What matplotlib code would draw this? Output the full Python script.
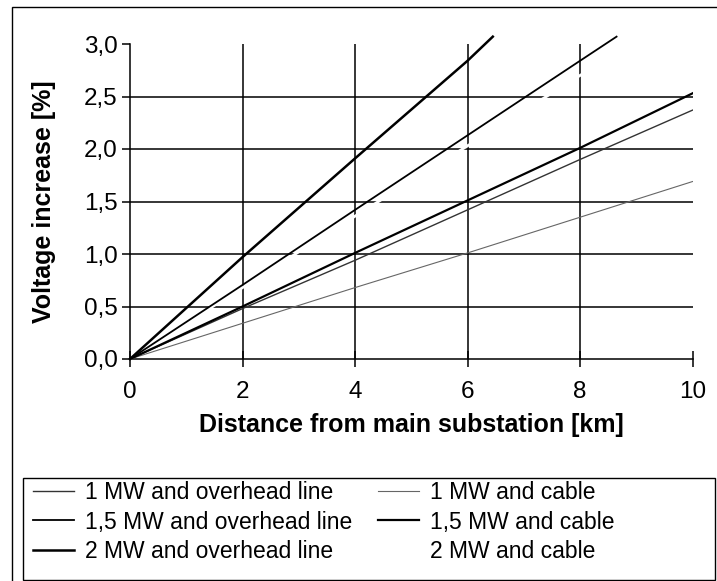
import matplotlib.pyplot as plt
from matplotlib.patches import Rectangle

plt.rcParams["font.family"] = ["Liberation Sans", "DejaVu Sans"]

# voltage rise [%] along the feeder, read at every 2 km
distance_km = [0, 2, 4, 6, 8, 10]
overhead_1mw = [0, 0.48, 0.94, 1.42, 1.90, 2.37]
cable_1mw = [0, 0.34, 0.68, 1.01, 1.35, 1.69]
cable_15mw = [0, 0.50, 1.01, 1.51, 2.01, 2.53]
cable_2mw = [0, 0.68, 1.36, 2.03, 2.70, 3.38]

# the two steep overhead-line curves stop just above 3 %
overhead_15mw_km = [0, 2, 4, 6, 8, 8.65]
overhead_15mw = [0, 0.705, 1.42, 2.13, 2.84, 3.07]
overhead_2mw_km = [0, 2, 4, 6, 6.45]
overhead_2mw = [0, 0.97, 1.91, 2.84, 3.07]

x_ticks = [0, 2, 4, 6, 8, 10]
x_tick_labels = ["0", "2", "4", "6", "8", "10"]
y_ticks = [0, 0.5, 1.0, 1.5, 2.0, 2.5, 3.0]
y_tick_labels = ["0,0", "0,5", "1,0", "1,5", "2,0", "2,5", "3,0"]

labels_overhead = ["1 MW and overhead line", "1,5 MW and overhead line",
                   "2 MW and overhead line"]
labels_cable = ["1 MW and cable", "1,5 MW and cable", "2 MW and cable"]

W, H = 717, 581
fig = plt.figure(figsize=(W / 100, H / 100), dpi=100)
ax = fig.add_axes([130 / W, 1 - 359 / H, 562.5 / W, 315 / H])

# frame around the whole figure and around the legend
fig.patches.append(Rectangle((12 / W, -0.05), 1.0, 1 - 7 / H + 0.05,
                             transform=fig.transFigure, fill=False,
                             lw=1.0, ec="black"))
fig.patches.append(Rectangle((23 / W, 1 - 580 / H), (715 - 23) / W, (580 - 478) / H,
                             transform=fig.transFigure, fill=False,
                             lw=1.0, ec="black"))

for y in y_ticks[1:-1]:
    ax.axhline(y, color="black", lw=1.1, zorder=1)
for x in x_ticks[1:-1]:
    ax.axvline(x, color="black", lw=1.1, zorder=1)

h_oh1, = ax.plot(distance_km, overhead_1mw, color="#333333", lw=1.0, zorder=3)
h_oh15, = ax.plot(overhead_15mw_km, overhead_15mw, color="black", lw=1.3,
                  zorder=3, clip_on=False)
h_oh2, = ax.plot(overhead_2mw_km, overhead_2mw, color="black", lw=1.8,
                 zorder=3, clip_on=False)
h_c1, = ax.plot(distance_km, cable_1mw, color="#666666", lw=0.8, zorder=3)
h_c15, = ax.plot(distance_km, cable_15mw, color="black", lw=1.6, zorder=3)
h_c2, = ax.plot(distance_km, cable_2mw, color="white", lw=2.0, zorder=2)

ax.set_xlim(0, 10)
ax.set_ylim(0, 3)
ax.set_xticks(x_ticks)
ax.set_xticklabels(x_tick_labels)
ax.set_yticks(y_ticks)
ax.set_yticklabels(y_tick_labels)
ax.tick_params(axis="x", direction="inout", length=11, width=1.1,
               labelsize=17.5, pad=10)
ax.tick_params(axis="y", direction="out", length=6, width=1.1,
               labelsize=17.5, pad=3)

for side in ("top", "right"):
    ax.spines[side].set_visible(False)
for side in ("left", "bottom"):
    ax.spines[side].set_linewidth(1.1)

ax.set_xlabel("Distance from main substation [km]", fontsize=18, fontweight="bold")
ax.set_ylabel("Voltage increase [%]", fontsize=18, fontweight="bold")
ax.xaxis.set_label_coords(0.5, (359 - 425) / 315)
ax.xaxis.label.set_va("center")
ax.yaxis.set_label_coords((44 - 130) / 562.5, 0.5)
ax.yaxis.label.set_va("center")

legend_kw = dict(loc="center left", frameon=False, fontsize=16.5,
                 handlelength=1.8, handletextpad=0.45, labelspacing=0.3,
                 borderpad=0, borderaxespad=0)
fig.legend([h_oh1, h_oh15, h_oh2], labels_overhead,
           bbox_to_anchor=(33 / W, 1 - 522 / H), **legend_kw)
fig.legend([h_c1, h_c15, h_c2], labels_cable,
           bbox_to_anchor=(378 / W, 1 - 522 / H), **legend_kw)

fig.savefig("out.png", dpi=100)
